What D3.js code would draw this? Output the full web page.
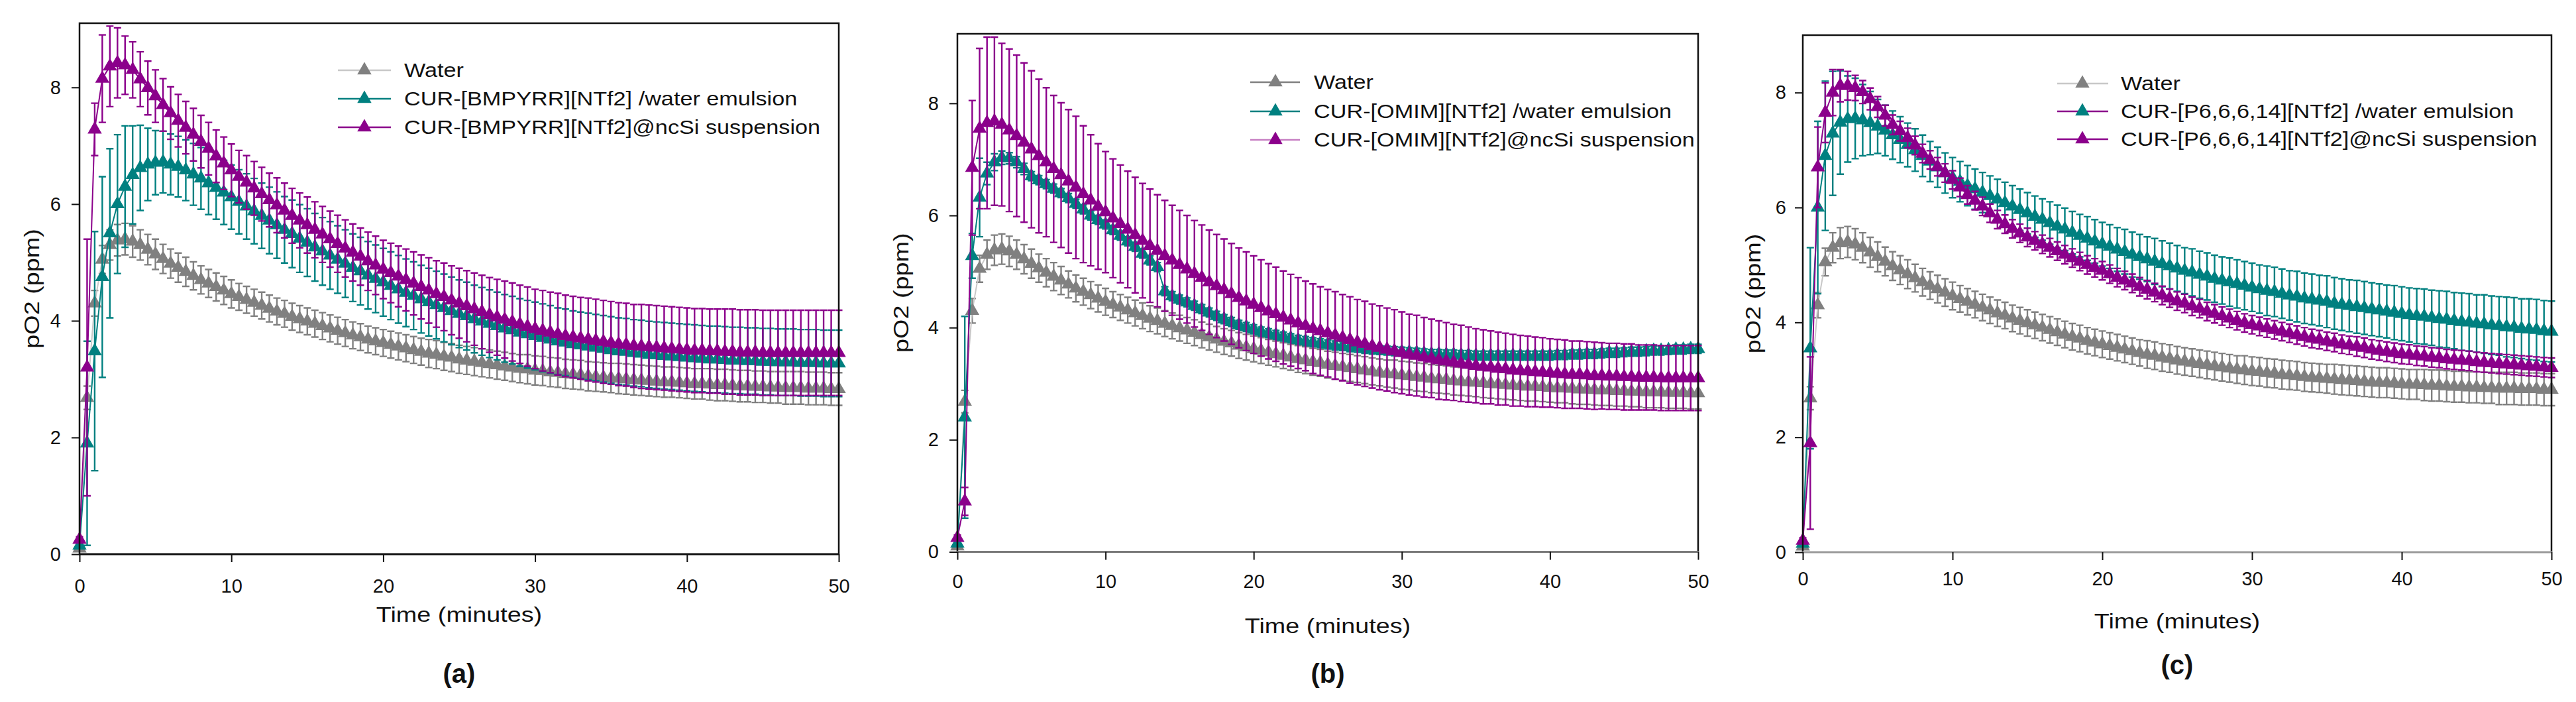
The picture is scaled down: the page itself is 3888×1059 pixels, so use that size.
<!DOCTYPE html>
<html><head><meta charset="utf-8">
<script src="https://cdn.jsdelivr.net/npm/d3@7"></script>
<style>
body{margin:0;background:#fff}
svg{display:block}
text{font-family:"Liberation Sans",Arial,sans-serif;fill:#111}
</style>
</head><body>
<svg id="chart" width="3888" height="1059"></svg>
<script>
// ---------------- DATA ----------------
const time = [0,0.5,1,1.5,2,2.5,3,3.5,4,4.5,5,5.5,6,6.5,7,7.5,8,8.5,9,9.5,
10,10.5,11,11.5,12,12.5,13,13.5,14,14.5,15,15.5,16,16.5,17,17.5,18,18.5,19,19.5,
20,20.5,21,21.5,22,22.5,23,23.5,24,24.5,25,25.5,26,26.5,27,27.5,28,28.5,29,29.5,
30,30.5,31,31.5,32,32.5,33,33.5,34,34.5,35,35.5,36,36.5,37,37.5,38,38.5,39,39.5,
40,40.5,41,41.5,42,42.5,43,43.5,44,44.5,45,45.5,46,46.5,47,47.5,48,48.5,49,49.5,50];

const xTicks = [0,10,20,30,40,50];
const yTicks = [0,2,4,6,8];
const panelLabels = ["(a)","(b)","(c)"];
const ionicLiquids = ["[BMPYRR][NTf2]","[OMIM][NTf2]","[P6,6,6,14][NTf2]"];
const yMax = [9.1, 9.24, 9.0];
const xTitle = "Time (minutes)";
const yTitle = "pO2 (ppm)";

// Water (same control in all three panels)
const waterMean = [0.10,2.68,4.30,5.05,5.30,5.38,5.40,5.36,5.30,5.22,
5.14,5.06,4.98,4.91,4.84,4.77,4.70,4.64,4.58,4.52,
4.46,4.41,4.36,4.31,4.26,4.21,4.16,4.12,4.07,4.03,
3.99,3.95,3.91,3.87,3.83,3.79,3.75,3.72,3.68,3.65,
3.62,3.59,3.56,3.53,3.50,3.47,3.44,3.42,3.39,3.37,
3.34,3.32,3.30,3.28,3.26,3.24,3.22,3.20,3.18,3.17,
3.15,3.14,3.12,3.11,3.09,3.08,3.07,3.05,3.04,3.03,
3.02,3.01,3.00,2.99,2.98,2.97,2.96,2.95,2.95,2.94,
2.93,2.92,2.92,2.91,2.90,2.90,2.89,2.88,2.88,2.87,
2.87,2.86,2.86,2.85,2.85,2.85,2.84,2.84,2.84,2.83,2.83];
const waterErr = [0.04,0.20,0.22,0.24,0.26,0.27,0.27,0.27,0.26,0.26,
0.26,0.25,0.25,0.25,0.25,0.24,0.24,0.24,0.24,0.24,
0.24,0.23,0.23,0.23,0.23,0.23,0.23,0.23,0.23,0.23,
0.23,0.23,0.23,0.23,0.23,0.23,0.23,0.23,0.23,0.23,
0.23,0.23,0.23,0.23,0.23,0.23,0.24,0.24,0.24,0.24,
0.24,0.24,0.24,0.24,0.24,0.24,0.24,0.24,0.24,0.25,
0.25,0.25,0.25,0.25,0.25,0.25,0.25,0.25,0.25,0.25,
0.25,0.26,0.26,0.26,0.26,0.26,0.26,0.26,0.26,0.26,
0.26,0.26,0.26,0.27,0.27,0.27,0.27,0.27,0.27,0.27,
0.27,0.27,0.27,0.28,0.28,0.28,0.28,0.28,0.28,0.28,0.28];

// (a) [BMPYRR][NTf2]
const emulsionA = [0.15,1.90,3.48,4.75,5.50,6.00,6.30,6.50,6.62,6.68,
6.71,6.72,6.68,6.64,6.58,6.51,6.44,6.36,6.28,6.20,
6.12,6.04,5.96,5.88,5.80,5.72,5.64,5.56,5.49,5.41,
5.34,5.26,5.19,5.12,5.05,4.98,4.91,4.85,4.78,4.72,
4.66,4.60,4.54,4.48,4.43,4.37,4.32,4.27,4.22,4.17,
4.12,4.08,4.03,3.99,3.95,3.91,3.87,3.84,3.80,3.77,
3.74,3.71,3.68,3.65,3.63,3.60,3.58,3.56,3.54,3.52,
3.50,3.48,3.47,3.45,3.44,3.42,3.41,3.40,3.39,3.38,
3.37,3.36,3.35,3.34,3.34,3.33,3.32,3.32,3.31,3.31,
3.30,3.30,3.29,3.29,3.29,3.28,3.28,3.28,3.27,3.27,3.27];
const emulsionAErr = [0.05,1.75,2.05,1.72,1.45,1.19,1.04,0.84,0.73,0.62,
0.55,0.53,0.52,0.52,0.52,0.53,0.53,0.54,0.54,0.55,
0.55,0.55,0.56,0.56,0.56,0.57,0.57,0.57,0.58,0.58,
0.58,0.58,0.58,0.58,0.58,0.58,0.58,0.58,0.58,0.58,
0.58,0.58,0.58,0.58,0.58,0.58,0.58,0.58,0.58,0.58,
0.58,0.58,0.58,0.58,0.58,0.58,0.58,0.58,0.58,0.58,
0.58,0.58,0.58,0.57,0.57,0.57,0.57,0.57,0.57,0.57,
0.57,0.57,0.57,0.57,0.57,0.57,0.57,0.57,0.57,0.57,
0.57,0.57,0.57,0.57,0.57,0.57,0.57,0.57,0.57,0.57,
0.57,0.57,0.57,0.57,0.57,0.57,0.57,0.57,0.57,0.57,0.57];
const suspensionA = [0.25,3.20,7.28,8.15,8.36,8.42,8.38,8.30,8.14,7.99,
7.85,7.70,7.56,7.43,7.31,7.19,7.07,6.95,6.82,6.70,
6.58,6.47,6.37,6.27,6.17,6.07,5.98,5.89,5.80,5.72,
5.64,5.56,5.48,5.40,5.32,5.24,5.17,5.10,5.02,4.95,
4.88,4.82,4.76,4.70,4.64,4.58,4.52,4.46,4.41,4.35,
4.30,4.25,4.20,4.15,4.10,4.06,4.02,3.98,3.94,3.90,
3.86,3.83,3.80,3.77,3.74,3.72,3.70,3.68,3.66,3.64,
3.62,3.60,3.59,3.57,3.56,3.55,3.54,3.53,3.52,3.51,
3.50,3.49,3.49,3.48,3.48,3.47,3.47,3.46,3.46,3.46,
3.45,3.45,3.45,3.45,3.45,3.45,3.45,3.45,3.45,3.45,3.45];
const suspensionAErr = [0.05,2.20,0.45,0.75,0.69,0.60,0.50,0.48,0.47,0.46,
0.45,0.45,0.45,0.45,0.45,0.45,0.45,0.45,0.45,0.45,
0.45,0.45,0.46,0.46,0.46,0.46,0.47,0.47,0.47,0.47,
0.48,0.48,0.48,0.48,0.49,0.49,0.49,0.49,0.50,0.50,
0.50,0.51,0.52,0.53,0.54,0.55,0.56,0.57,0.58,0.59,
0.60,0.61,0.62,0.63,0.64,0.65,0.66,0.67,0.67,0.68,
0.68,0.69,0.69,0.70,0.70,0.70,0.70,0.71,0.71,0.71,
0.71,0.71,0.71,0.71,0.72,0.72,0.72,0.72,0.72,0.72,
0.72,0.72,0.72,0.72,0.72,0.73,0.73,0.73,0.73,0.73,
0.73,0.73,0.73,0.73,0.73,0.73,0.73,0.73,0.73,0.73,0.73];

// (b) [OMIM][NTf2]
const emulsionB = [0.15,2.40,5.28,6.32,6.75,6.95,7.03,7.02,6.95,6.83,
6.70,6.63,6.56,6.48,6.40,6.31,6.21,6.11,6.00,5.92,
5.84,5.74,5.64,5.54,5.44,5.32,5.20,5.08,4.65,4.56,
4.50,4.45,4.39,4.33,4.27,4.21,4.15,4.10,4.05,4.01,
3.97,3.93,3.90,3.87,3.84,3.81,3.78,3.76,3.74,3.72,
3.70,3.68,3.67,3.65,3.64,3.62,3.61,3.60,3.59,3.58,
3.57,3.56,3.55,3.54,3.53,3.53,3.52,3.52,3.51,3.51,
3.50,3.50,3.50,3.50,3.50,3.50,3.50,3.50,3.50,3.50,
3.50,3.51,3.51,3.52,3.52,3.53,3.53,3.54,3.55,3.55,
3.56,3.57,3.57,3.58,3.59,3.59,3.60,3.61,3.61,3.62,3.62];
const emulsionBErr = [0.05,1.80,0.40,0.70,0.20,0.15,0.12,0.10,0.10,0.10,
0.08,0.08,0.08,0.08,0.08,0.08,0.08,0.08,0.08,0.08,
0.08,0.08,0.08,0.08,0.08,0.08,0.08,0.08,0.08,0.08,
0.08,0.08,0.08,0.08,0.08,0.08,0.08,0.08,0.08,0.08,
0.08,0.08,0.08,0.08,0.08,0.08,0.08,0.08,0.08,0.08,
0.08,0.08,0.08,0.08,0.08,0.08,0.08,0.08,0.08,0.08,
0.08,0.08,0.08,0.08,0.08,0.08,0.08,0.08,0.08,0.08,
0.08,0.08,0.08,0.08,0.08,0.08,0.08,0.08,0.08,0.08,
0.08,0.08,0.08,0.08,0.08,0.08,0.08,0.08,0.08,0.08,
0.08,0.08,0.08,0.08,0.08,0.08,0.08,0.08,0.08,0.08,0.08];
const suspensionB = [0.25,0.90,6.85,7.55,7.65,7.68,7.62,7.52,7.42,7.30,
7.18,7.06,6.95,6.83,6.72,6.61,6.50,6.38,6.27,6.16,
6.06,5.95,5.85,5.75,5.65,5.55,5.46,5.37,5.28,5.20,
5.12,5.04,4.96,4.89,4.81,4.74,4.67,4.60,4.53,4.47,
4.41,4.35,4.29,4.24,4.18,4.13,4.08,4.03,3.98,3.94,
3.90,3.86,3.82,3.78,3.74,3.71,3.67,3.64,3.61,3.58,
3.55,3.52,3.50,3.47,3.45,3.42,3.40,3.38,3.36,3.34,
3.32,3.30,3.29,3.27,3.26,3.24,3.23,3.22,3.21,3.20,
3.19,3.18,3.17,3.16,3.16,3.15,3.14,3.14,3.13,3.13,
3.12,3.12,3.11,3.11,3.11,3.10,3.10,3.10,3.10,3.10,3.10];
const suspensionBErr = [0.05,0.25,1.20,1.43,1.53,1.50,1.45,1.45,1.44,1.42,
1.40,1.37,1.33,1.31,1.29,1.28,1.27,1.22,1.17,1.12,
1.08,1.06,1.05,1.04,1.03,1.02,1.01,1.00,0.99,0.98,
0.97,0.96,0.95,0.94,0.93,0.92,0.91,0.90,0.89,0.88,
0.87,0.86,0.85,0.84,0.83,0.82,0.81,0.80,0.80,0.79,
0.78,0.78,0.77,0.77,0.76,0.76,0.75,0.75,0.74,0.74,
0.73,0.72,0.72,0.71,0.70,0.70,0.69,0.68,0.68,0.67,
0.66,0.66,0.65,0.65,0.64,0.64,0.63,0.63,0.62,0.62,
0.61,0.61,0.61,0.60,0.60,0.60,0.60,0.59,0.59,0.59,
0.59,0.59,0.58,0.58,0.58,0.58,0.58,0.58,0.58,0.58,0.58];

// (c) [P6,6,6,14][NTf2]
const emulsionC = [0.15,3.55,6.00,6.90,7.29,7.48,7.54,7.55,7.52,7.47,
7.41,7.34,7.26,7.18,7.09,7.00,6.90,6.80,6.70,6.60,
6.52,6.45,6.38,6.32,6.26,6.20,6.14,6.08,6.02,5.96,
5.90,5.84,5.79,5.73,5.67,5.62,5.56,5.51,5.46,5.41,
5.36,5.32,5.27,5.23,5.18,5.14,5.10,5.06,5.02,4.98,
4.94,4.90,4.87,4.83,4.80,4.76,4.73,4.70,4.67,4.64,
4.61,4.58,4.55,4.53,4.50,4.47,4.45,4.42,4.40,4.38,
4.36,4.33,4.31,4.29,4.27,4.25,4.23,4.21,4.19,4.17,
4.15,4.13,4.11,4.10,4.08,4.06,4.05,4.03,4.01,4.00,
3.98,3.97,3.95,3.94,3.92,3.91,3.89,3.88,3.87,3.85,3.84];
const emulsionCErr = [0.05,1.75,1.50,1.30,1.08,0.90,0.75,0.70,0.62,0.55,
0.47,0.44,0.42,0.40,0.38,0.37,0.36,0.35,0.35,0.35,
0.35,0.35,0.35,0.35,0.35,0.35,0.35,0.36,0.36,0.36,
0.36,0.36,0.36,0.37,0.37,0.37,0.37,0.37,0.38,0.38,
0.38,0.38,0.38,0.39,0.39,0.39,0.39,0.40,0.40,0.40,
0.40,0.40,0.41,0.41,0.41,0.41,0.41,0.42,0.42,0.42,
0.42,0.42,0.43,0.43,0.43,0.43,0.44,0.44,0.44,0.44,
0.45,0.45,0.45,0.45,0.46,0.46,0.46,0.46,0.46,0.47,
0.47,0.47,0.48,0.48,0.48,0.49,0.49,0.49,0.50,0.50,
0.50,0.51,0.51,0.51,0.52,0.52,0.52,0.53,0.53,0.53,0.53];
const suspensionC = [0.20,1.90,6.70,7.65,8.00,8.12,8.12,8.08,8.01,7.89,
7.75,7.60,7.44,7.33,7.21,7.08,6.94,6.83,6.71,6.60,
6.48,6.35,6.22,6.12,6.02,5.90,5.79,5.71,5.63,5.55,
5.48,5.42,5.36,5.30,5.24,5.18,5.12,5.06,5.00,4.95,
4.90,4.84,4.78,4.73,4.68,4.62,4.57,4.52,4.47,4.42,
4.37,4.33,4.28,4.24,4.19,4.15,4.11,4.07,4.03,3.99,
3.96,3.93,3.90,3.87,3.84,3.81,3.78,3.75,3.72,3.70,
3.67,3.65,3.62,3.60,3.58,3.56,3.53,3.51,3.49,3.47,
3.45,3.44,3.42,3.41,3.39,3.38,3.36,3.35,3.34,3.33,
3.31,3.30,3.29,3.28,3.27,3.26,3.25,3.24,3.23,3.22,3.21];
const suspensionCErr = [0.05,1.50,0.70,0.52,0.40,0.28,0.25,0.22,0.20,0.19,
0.18,0.18,0.17,0.17,0.17,0.16,0.16,0.16,0.16,0.16,
0.16,0.16,0.16,0.16,0.16,0.16,0.16,0.16,0.16,0.16,
0.16,0.16,0.16,0.16,0.16,0.16,0.16,0.16,0.16,0.16,
0.16,0.16,0.16,0.16,0.16,0.16,0.16,0.16,0.16,0.16,
0.16,0.16,0.16,0.16,0.16,0.16,0.16,0.16,0.16,0.16,
0.16,0.16,0.16,0.16,0.16,0.16,0.16,0.16,0.16,0.16,
0.16,0.16,0.16,0.16,0.17,0.17,0.17,0.17,0.17,0.17,
0.17,0.17,0.17,0.17,0.17,0.17,0.17,0.17,0.17,0.17,
0.17,0.17,0.17,0.17,0.17,0.17,0.17,0.17,0.17,0.17,0.17];

// ---------------- STYLE / LAYOUT ----------------
const GRAY = "#808080", TEAL = "#008080", MAG = "#8b008b";
const panels = [
  {left:120, right:1266, top:35, bottom:836, xPad:25, yPad:16, axisColor:"#111",
   xTitleY:927, yTitleX:48, labelY:1016,
   leg:{rows:[106,149,192], l0:510, l1:590, m:550, tx:610},
   legLine:["#c8c8c8", TEAL, MAG], legMark:[GRAY, TEAL, MAG],
   series:[[waterMean,waterErr],[emulsionA,emulsionAErr],[suspensionA,suspensionAErr]]},
  {left:1445, right:2563, top:51, bottom:832.5, xPad:22, yPad:16, axisColor:"#7a7a7a",
   xTitleY:944, yTitleX:1360, labelY:1016,
   leg:{rows:[124,168,211], l0:1887, l1:1962, m:1925, tx:1983},
   legLine:[GRAY, TEAL, "#c77fc3"], legMark:[GRAY, TEAL, MAG],
   series:[[waterMean,waterErr],[emulsionB,emulsionBErr],[suspensionB,suspensionBErr]]},
  {left:2721, right:3851, top:53, bottom:833, xPad:17, yPad:13, axisColor:"#9a9a9a",
   xTitleY:937, yTitleX:2646, labelY:1003,
   leg:{rows:[126,168,210], l0:3105, l1:3182, m:3143, tx:3201},
   legLine:["#c8c8c8", MAG, MAG], legMark:[GRAY, TEAL, MAG],
   series:[[waterMean,waterErr],[emulsionC,emulsionCErr],[suspensionC,suspensionCErr]]}
];
const seriesColors = [GRAY, TEAL, MAG];
const seriesLine = ["#c8c8c8", TEAL, MAG];
const STRETCH = 1.18;

const svg = d3.select("#chart");
const tri = d3.symbol().type(d3.symbolTriangle).size(200);

function stretchText(sel, f) {
  sel.each(function(){
    const L = this.getComputedTextLength();
    d3.select(this).attr("textLength", L * f).attr("lengthAdjust", "spacingAndGlyphs");
  });
}

panels.forEach((P, pi) => {
  const g = svg.append("g");
  const x = d3.scaleLinear().domain([0, 50]).range([P.left, P.right]);
  const y = d3.scaleLinear().domain([0, yMax[pi]]).range([P.bottom, P.top]);

  // series
  P.series.forEach(([mean, err], si) => {
    const color = seriesColors[si];
    const pts = time.map((t, i) => ({t, m: mean[i], e: err[i]}));
    const eb = g.append("g").attr("stroke", color).attr("stroke-width", 2.4).attr("fill", "none");
    eb.selectAll("path").data(pts).join("path")
      .attr("d", d => {
        const xx = x(d.t), y1 = y(d.m + d.e), y2 = y(d.m - d.e);
        return `M${xx},${y1}V${y2}M${xx-5.5},${y1}H${xx+5.5}M${xx-5.5},${y2}H${xx+5.5}`;
      });
    g.append("path").datum(pts)
      .attr("d", d3.line().x(d => x(d.t)).y(d => y(d.m)))
      .attr("fill", "none").attr("stroke", seriesLine[si]).attr("stroke-width", 2);
    g.append("g").selectAll("path").data(pts).join("path")
      .attr("transform", d => `translate(${x(d.t)},${y(d.m)})`)
      .attr("d", tri).attr("fill", color);
  });

  // frame
  g.append("path")
    .attr("d", `M${P.left},${P.bottom}V${P.top}H${P.right}V${P.bottom}`)
    .attr("fill", "none").attr("stroke", "#111").attr("stroke-width", 2.5);
  g.append("line").attr("x1", P.left - 1).attr("x2", P.right + 1)
    .attr("y1", P.bottom).attr("y2", P.bottom)
    .attr("stroke", P.axisColor).attr("stroke-width", 3);

  // axes
  const xa = g.append("g").attr("transform", `translate(0,${P.bottom})`)
    .call(d3.axisBottom(x).tickValues(xTicks).tickSize(12).tickSizeOuter(0).tickPadding(P.xPad));
  const ya = g.append("g").attr("transform", `translate(${P.left},0)`)
    .call(d3.axisLeft(y).tickValues(yTicks).tickSize(12).tickSizeOuter(0).tickPadding(P.yPad));
  [xa, ya].forEach(a => {
    a.select(".domain").remove();
    a.selectAll(".tick line").attr("stroke", "#111").attr("stroke-width", 2);
    a.selectAll(".tick text").attr("font-size", 29).attr("fill", "#111")
      .style("font-family", '"Liberation Sans", Arial, sans-serif');
  });

  // axis titles
  const xt = g.append("text").attr("x", (P.left + P.right) / 2).attr("y", P.xTitleY)
    .attr("dy", "0.35em").attr("text-anchor", "middle").attr("font-size", 32).text(xTitle);
  stretchText(xt, STRETCH);
  const cy = (P.top + P.bottom) / 2;
  const yt = g.append("text").attr("transform", `translate(${P.yTitleX},${cy}) rotate(-90)`)
    .attr("dy", "0.35em").attr("text-anchor", "middle").attr("font-size", 32).text(yTitle);
  stretchText(yt, STRETCH);

  // panel label
  g.append("text").attr("x", (P.left + P.right) / 2).attr("y", P.labelY)
    .attr("dy", "0.35em").attr("text-anchor", "middle")
    .attr("font-size", 40).attr("font-weight", "bold").text(panelLabels[pi]);

  // legend
  const names = ["Water",
    `CUR-${ionicLiquids[pi]} /water emulsion`,
    `CUR-${ionicLiquids[pi]}@ncSi suspension`];
  names.forEach((nm, k) => {
    const ry = P.leg.rows[k];
    g.append("line").attr("x1", P.leg.l0).attr("x2", P.leg.l1).attr("y1", ry).attr("y2", ry)
      .attr("stroke", P.legLine[k]).attr("stroke-width", 2.5);
    g.append("path").attr("transform", `translate(${P.leg.m},${ry})`).attr("d", tri)
      .attr("fill", P.legMark[k]);
    const t = g.append("text").attr("x", P.leg.tx).attr("y", ry).attr("dy", "0.35em")
      .attr("font-size", 29).text(nm);
    stretchText(t, STRETCH);
  });
});
</script>
</body></html>
